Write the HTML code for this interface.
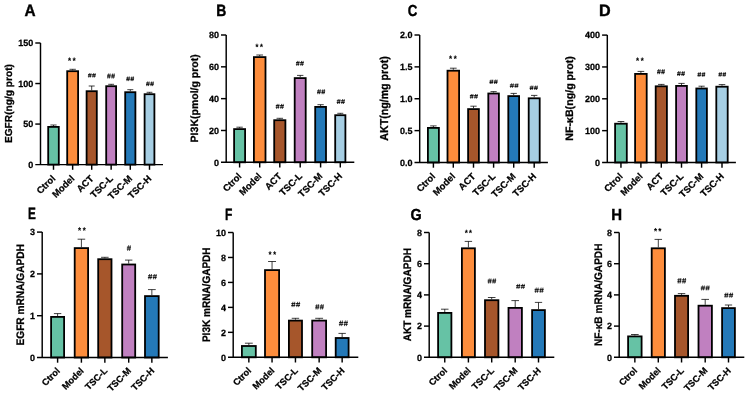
<!DOCTYPE html>
<html><head><meta charset="utf-8"><style>
html,body{margin:0;padding:0;background:#fff;}
svg{display:block;will-change:transform;} .wrap{width:750px;height:397px;}
text{font-family:"Liberation Sans", sans-serif;font-weight:bold;fill:#000;font-kerning:none;text-rendering:geometricPrecision;stroke:#000;stroke-width:0.25px;}
</style></head><body><div class="wrap">
<svg width="750" height="397" viewBox="0 0 750 397">
<rect width="750" height="397" fill="#fff"/>
<path d="M53.50 126.00V125.00M50.40 125.00H56.60" stroke="#000" stroke-width="0.75" fill="none"/>
<rect x="48.20" y="126.90" width="10.60" height="37.70" fill="#66C2A5" stroke="#000" stroke-width="1.8"/>
<path d="M72.65 70.30V69.30M69.48 69.30H75.83" stroke="#000" stroke-width="0.75" fill="none"/>
<rect x="67.20" y="71.20" width="10.90" height="93.40" fill="#FD8D3C" stroke="#000" stroke-width="1.8"/>
<path d="M69.91 58.71 70.83 58.23 71.1 59.14 70.12 59.42 70.85 60.39 70.13 60.95 69.55 59.79 68.97 60.95 68.24 60.39 68.98 59.42 68 59.14 68.27 58.23 69.21 58.71 69.14 57.45H69.98Z" fill="#000" stroke="#000" stroke-width="0.05"/>
<path d="M74.51 58.71 75.43 58.23 75.7 59.14 74.72 59.42 75.45 60.39 74.73 60.95 74.15 59.79 73.57 60.95 72.84 60.39 73.58 59.42 72.6 59.14 72.87 58.23 73.81 58.71 73.74 57.45H74.58Z" fill="#000" stroke="#000" stroke-width="0.05"/>
<path d="M91.70 90.30V86.00M88.70 86.00H94.70" stroke="#000" stroke-width="0.75" fill="none"/>
<rect x="86.60" y="91.20" width="10.20" height="73.40" fill="#A6562B" stroke="#000" stroke-width="1.8"/>
<path d="M88.00 74.66H91.65M87.90 76.12H91.45M92.15 74.66H95.80M92.05 76.12H95.60" stroke="#000" stroke-width="0.9" fill="none"/><path d="M89.46 73.20L88.66 77.50M91.07 73.20L90.26 77.50M93.61 73.20L92.81 77.50M95.22 73.20L94.41 77.50" stroke="#000" stroke-width="0.7" fill="none"/>
<path d="M111.15 85.30V84.30M108.23 84.30H114.08" stroke="#000" stroke-width="0.75" fill="none"/>
<rect x="106.20" y="86.20" width="9.90" height="78.40" fill="#C080C0" stroke="#000" stroke-width="1.8"/>
<path d="M107.10 75.20H110.75M107.00 76.90H110.55M111.25 75.20H114.90M111.15 76.90H114.70" stroke="#000" stroke-width="0.9" fill="none"/><path d="M108.56 73.50L107.76 78.50M110.17 73.50L109.36 78.50M112.71 73.50L111.91 78.50M114.32 73.50L113.51 78.50" stroke="#000" stroke-width="0.7" fill="none"/>
<path d="M130.30 91.30V89.70M127.30 89.70H133.30" stroke="#000" stroke-width="0.75" fill="none"/>
<rect x="125.20" y="92.20" width="10.20" height="72.40" fill="#2479B8" stroke="#000" stroke-width="1.8"/>
<path d="M126.30 78.06H129.95M126.20 79.63H129.75M130.45 78.06H134.10M130.35 79.63H133.90" stroke="#000" stroke-width="0.9" fill="none"/><path d="M127.76 76.50L126.96 81.10M129.37 76.50L128.56 81.10M131.91 76.50L131.11 81.10M133.52 76.50L132.71 81.10" stroke="#000" stroke-width="0.7" fill="none"/>
<path d="M149.50 93.30V92.30M146.60 92.30H152.40" stroke="#000" stroke-width="0.75" fill="none"/>
<rect x="144.60" y="94.20" width="9.80" height="70.40" fill="#A6CEE3" stroke="#000" stroke-width="1.8"/>
<path d="M146.10 83.06H149.75M146.00 84.63H149.55M150.25 83.06H153.90M150.15 84.63H153.70" stroke="#000" stroke-width="0.9" fill="none"/><path d="M147.56 81.50L146.76 86.10M149.17 81.50L148.36 86.10M151.71 81.50L150.91 86.10M153.32 81.50L152.51 86.10" stroke="#000" stroke-width="0.7" fill="none"/>
<path d="M40.50 43.00V164.60M35.30 164.60H163.00" stroke="#000" stroke-width="1.45" fill="none"/>
<path d="M35.30 43.00H40.50" stroke="#000" stroke-width="1.45"/>
<text x="33.30" y="46.20" font-size="9" text-anchor="end">150</text>
<path d="M35.30 83.53H40.50" stroke="#000" stroke-width="1.45"/>
<text x="33.30" y="86.73" font-size="9" text-anchor="end">100</text>
<path d="M35.30 124.07H40.50" stroke="#000" stroke-width="1.45"/>
<text x="33.30" y="127.27" font-size="9" text-anchor="end">50</text>
<text x="33.30" y="167.80" font-size="9" text-anchor="end">0</text>
<path d="M53.50 164.60V169.80" stroke="#000" stroke-width="1.45"/>
<text transform="translate(56.00,179.10) rotate(-45)" font-size="9.4" text-anchor="end">Ctrol</text>
<path d="M72.65 164.60V169.80" stroke="#000" stroke-width="1.45"/>
<text transform="translate(75.15,179.10) rotate(-45)" font-size="9.4" text-anchor="end">Model</text>
<path d="M91.70 164.60V169.80" stroke="#000" stroke-width="1.45"/>
<text transform="translate(94.20,179.10) rotate(-45)" font-size="9.4" text-anchor="end">ACT</text>
<path d="M111.15 164.60V169.80" stroke="#000" stroke-width="1.45"/>
<text transform="translate(113.65,179.10) rotate(-45)" font-size="9.4" text-anchor="end">TSC-L</text>
<path d="M130.30 164.60V169.80" stroke="#000" stroke-width="1.45"/>
<text transform="translate(132.80,179.10) rotate(-45)" font-size="9.4" text-anchor="end">TSC-M</text>
<path d="M149.50 164.60V169.80" stroke="#000" stroke-width="1.45"/>
<text transform="translate(152.00,179.10) rotate(-45)" font-size="9.4" text-anchor="end">TSC-H</text>
<text transform="translate(24.62,16.30) scale(1.535,1.642)" font-size="10">A</text>
<text transform="translate(12.00,143.08) rotate(-90) scale(1.017,1.017)" font-size="10">EGFR(ng/g prot)</text>
<path d="M239.60 128.20V127.20M236.40 127.20H242.80" stroke="#000" stroke-width="0.75" fill="none"/>
<rect x="234.10" y="129.10" width="11.00" height="33.20" fill="#66C2A5" stroke="#000" stroke-width="1.8"/>
<path d="M259.70 56.20V55.00M256.35 55.00H263.05" stroke="#000" stroke-width="0.75" fill="none"/>
<rect x="253.90" y="57.10" width="11.60" height="105.20" fill="#FD8D3C" stroke="#000" stroke-width="1.8"/>
<path d="M257.31 44.91 258.23 44.43 258.5 45.34 257.52 45.62 258.25 46.59 257.53 47.15 256.95 45.99 256.37 47.15 255.64 46.59 256.38 45.62 255.4 45.34 255.67 44.43 256.61 44.91 256.54 43.65H257.38Z" fill="#000" stroke="#000" stroke-width="0.05"/>
<path d="M261.81 44.91 262.73 44.43 263 45.34 262.02 45.62 262.75 46.59 262.03 47.15 261.45 45.99 260.87 47.15 260.14 46.59 260.88 45.62 259.9 45.34 260.17 44.43 261.11 44.91 261.04 43.65H261.88Z" fill="#000" stroke="#000" stroke-width="0.05"/>
<path d="M279.80 119.30V118.30M276.55 118.30H283.05" stroke="#000" stroke-width="0.75" fill="none"/>
<rect x="274.20" y="120.20" width="11.20" height="42.10" fill="#A6562B" stroke="#000" stroke-width="1.8"/>
<path d="M275.80 105.57H279.60M275.70 107.23H279.40M280.10 105.57H283.90M280.00 107.23H283.70" stroke="#000" stroke-width="0.9" fill="none"/><path d="M277.32 103.90L276.48 108.80M278.99 103.90L278.16 108.80M281.62 103.90L280.78 108.80M283.29 103.90L282.46 108.80" stroke="#000" stroke-width="0.7" fill="none"/>
<path d="M300.20 77.20V75.40M297.00 75.40H303.40" stroke="#000" stroke-width="0.75" fill="none"/>
<rect x="294.70" y="78.10" width="11.00" height="84.20" fill="#C080C0" stroke="#000" stroke-width="1.8"/>
<path d="M296.00 62.57H299.65M295.90 64.23H299.45M300.15 62.57H303.80M300.05 64.23H303.60" stroke="#000" stroke-width="0.9" fill="none"/><path d="M297.46 60.90L296.66 65.80M299.07 60.90L298.26 65.80M301.61 60.90L300.81 65.80M303.22 60.90L302.41 65.80" stroke="#000" stroke-width="0.7" fill="none"/>
<path d="M320.60 106.00V104.70M317.45 104.70H323.75" stroke="#000" stroke-width="0.75" fill="none"/>
<rect x="315.20" y="106.90" width="10.80" height="55.40" fill="#2479B8" stroke="#000" stroke-width="1.8"/>
<path d="M317.10 90.97H320.90M317.00 92.63H320.70M321.40 90.97H325.20M321.30 92.63H325.00" stroke="#000" stroke-width="0.9" fill="none"/><path d="M318.62 89.30L317.78 94.20M320.29 89.30L319.46 94.20M322.92 89.30L322.08 94.20M324.59 89.30L323.76 94.20" stroke="#000" stroke-width="0.7" fill="none"/>
<path d="M340.30 114.30V113.30M337.30 113.30H343.30" stroke="#000" stroke-width="0.75" fill="none"/>
<rect x="335.20" y="115.20" width="10.20" height="47.10" fill="#A6CEE3" stroke="#000" stroke-width="1.8"/>
<path d="M336.80 100.77H340.60M336.70 102.43H340.40M341.10 100.77H344.90M341.00 102.43H344.70" stroke="#000" stroke-width="0.9" fill="none"/><path d="M338.32 99.10L337.48 104.00M339.99 99.10L339.16 104.00M342.62 99.10L341.78 104.00M344.29 99.10L343.46 104.00" stroke="#000" stroke-width="0.7" fill="none"/>
<path d="M226.20 35.00V162.30M221.00 162.30H354.30" stroke="#000" stroke-width="1.45" fill="none"/>
<path d="M221.00 35.00H226.20" stroke="#000" stroke-width="1.45"/>
<text x="219.00" y="38.20" font-size="9" text-anchor="end">80</text>
<path d="M221.00 66.83H226.20" stroke="#000" stroke-width="1.45"/>
<text x="219.00" y="70.03" font-size="9" text-anchor="end">60</text>
<path d="M221.00 98.65H226.20" stroke="#000" stroke-width="1.45"/>
<text x="219.00" y="101.85" font-size="9" text-anchor="end">40</text>
<path d="M221.00 130.48H226.20" stroke="#000" stroke-width="1.45"/>
<text x="219.00" y="133.68" font-size="9" text-anchor="end">20</text>
<text x="219.00" y="165.50" font-size="9" text-anchor="end">0</text>
<path d="M239.60 162.30V167.50" stroke="#000" stroke-width="1.45"/>
<text transform="translate(242.10,176.80) rotate(-45)" font-size="9.4" text-anchor="end">Ctrol</text>
<path d="M259.70 162.30V167.50" stroke="#000" stroke-width="1.45"/>
<text transform="translate(262.20,176.80) rotate(-45)" font-size="9.4" text-anchor="end">Model</text>
<path d="M279.80 162.30V167.50" stroke="#000" stroke-width="1.45"/>
<text transform="translate(282.30,176.80) rotate(-45)" font-size="9.4" text-anchor="end">ACT</text>
<path d="M300.20 162.30V167.50" stroke="#000" stroke-width="1.45"/>
<text transform="translate(302.70,176.80) rotate(-45)" font-size="9.4" text-anchor="end">TSC-L</text>
<path d="M320.60 162.30V167.50" stroke="#000" stroke-width="1.45"/>
<text transform="translate(323.10,176.80) rotate(-45)" font-size="9.4" text-anchor="end">TSC-M</text>
<path d="M340.30 162.30V167.50" stroke="#000" stroke-width="1.45"/>
<text transform="translate(342.80,176.80) rotate(-45)" font-size="9.4" text-anchor="end">TSC-H</text>
<text transform="translate(216.27,16.30) scale(1.394,1.642)" font-size="10">B</text>
<text transform="translate(198.00,142.40) rotate(-90) scale(1.051,1.061)" font-size="10">PI3K(pmol/g prot)</text>
<path d="M433.40 127.00V125.90M430.20 125.90H436.60" stroke="#000" stroke-width="0.75" fill="none"/>
<rect x="427.90" y="127.90" width="11.00" height="34.60" fill="#66C2A5" stroke="#000" stroke-width="1.8"/>
<path d="M453.30 69.80V68.20M449.95 68.20H456.65" stroke="#000" stroke-width="0.75" fill="none"/>
<rect x="447.50" y="70.70" width="11.60" height="91.80" fill="#FD8D3C" stroke="#000" stroke-width="1.8"/>
<path d="M450.91 56.71 451.83 56.23 452.1 57.14 451.12 57.42 451.85 58.39 451.13 58.95 450.55 57.79 449.97 58.95 449.24 58.39 449.98 57.42 449 57.14 449.27 56.23 450.21 56.71 450.14 55.45H450.98Z" fill="#000" stroke="#000" stroke-width="0.05"/>
<path d="M455.61 56.71 456.53 56.23 456.8 57.14 455.82 57.42 456.55 58.39 455.83 58.95 455.25 57.79 454.67 58.95 453.94 58.39 454.68 57.42 453.7 57.14 453.97 56.23 454.91 56.71 454.84 55.45H455.68Z" fill="#000" stroke="#000" stroke-width="0.05"/>
<path d="M473.50 108.20V106.20M470.35 106.20H476.65" stroke="#000" stroke-width="0.75" fill="none"/>
<rect x="468.10" y="109.10" width="10.80" height="53.40" fill="#A6562B" stroke="#000" stroke-width="1.8"/>
<path d="M469.90 95.56H473.65M469.80 97.13H473.45M474.15 95.56H477.90M474.05 97.13H477.70" stroke="#000" stroke-width="0.9" fill="none"/><path d="M471.40 94.00L470.58 98.60M473.05 94.00L472.23 98.60M475.65 94.00L474.82 98.60M477.30 94.00L476.47 98.60" stroke="#000" stroke-width="0.7" fill="none"/>
<path d="M493.60 92.60V91.60M490.50 91.60H496.70" stroke="#000" stroke-width="0.75" fill="none"/>
<rect x="488.30" y="93.50" width="10.60" height="69.00" fill="#C080C0" stroke="#000" stroke-width="1.8"/>
<path d="M489.50 81.10H493.35M489.40 82.59H493.15M493.85 81.10H497.70M493.75 82.59H497.50" stroke="#000" stroke-width="0.9" fill="none"/><path d="M491.04 79.60L490.19 84.00M492.73 79.60L491.89 84.00M495.39 79.60L494.54 84.00M497.08 79.60L496.24 84.00" stroke="#000" stroke-width="0.7" fill="none"/>
<path d="M513.70 95.20V93.40M510.55 93.40H516.85" stroke="#000" stroke-width="0.75" fill="none"/>
<rect x="508.30" y="96.10" width="10.80" height="66.40" fill="#2479B8" stroke="#000" stroke-width="1.8"/>
<path d="M509.90 84.90H513.95M509.80 86.39H513.75M514.45 84.90H518.50M514.35 86.39H518.30" stroke="#000" stroke-width="0.9" fill="none"/><path d="M511.52 83.40L510.63 87.80M513.30 83.40L512.41 87.80M516.07 83.40L515.18 87.80M517.85 83.40L516.96 87.80" stroke="#000" stroke-width="0.7" fill="none"/>
<path d="M534.20 97.40V95.40M531.00 95.40H537.40" stroke="#000" stroke-width="0.75" fill="none"/>
<rect x="528.70" y="98.30" width="11.00" height="64.20" fill="#A6CEE3" stroke="#000" stroke-width="1.8"/>
<path d="M529.70 87.10H533.55M529.60 88.59H533.35M534.05 87.10H537.90M533.95 88.59H537.70" stroke="#000" stroke-width="0.9" fill="none"/><path d="M531.24 85.60L530.39 90.00M532.93 85.60L532.09 90.00M535.59 85.60L534.74 90.00M537.28 85.60L536.44 90.00" stroke="#000" stroke-width="0.7" fill="none"/>
<path d="M419.70 35.00V162.50M414.50 162.50H547.90" stroke="#000" stroke-width="1.45" fill="none"/>
<path d="M414.50 35.00H419.70" stroke="#000" stroke-width="1.45"/>
<text x="412.50" y="38.20" font-size="9" text-anchor="end">2.0</text>
<path d="M414.50 66.88H419.70" stroke="#000" stroke-width="1.45"/>
<text x="412.50" y="70.08" font-size="9" text-anchor="end">1.5</text>
<path d="M414.50 98.75H419.70" stroke="#000" stroke-width="1.45"/>
<text x="412.50" y="101.95" font-size="9" text-anchor="end">1.0</text>
<path d="M414.50 130.62H419.70" stroke="#000" stroke-width="1.45"/>
<text x="412.50" y="133.82" font-size="9" text-anchor="end">0.5</text>
<text x="412.50" y="165.70" font-size="9" text-anchor="end">0.0</text>
<path d="M433.40 162.50V167.70" stroke="#000" stroke-width="1.45"/>
<text transform="translate(435.90,177.00) rotate(-45)" font-size="9.4" text-anchor="end">Ctrol</text>
<path d="M453.30 162.50V167.70" stroke="#000" stroke-width="1.45"/>
<text transform="translate(455.80,177.00) rotate(-45)" font-size="9.4" text-anchor="end">Model</text>
<path d="M473.50 162.50V167.70" stroke="#000" stroke-width="1.45"/>
<text transform="translate(476.00,177.00) rotate(-45)" font-size="9.4" text-anchor="end">ACT</text>
<path d="M493.60 162.50V167.70" stroke="#000" stroke-width="1.45"/>
<text transform="translate(496.10,177.00) rotate(-45)" font-size="9.4" text-anchor="end">TSC-L</text>
<path d="M513.70 162.50V167.70" stroke="#000" stroke-width="1.45"/>
<text transform="translate(516.20,177.00) rotate(-45)" font-size="9.4" text-anchor="end">TSC-M</text>
<path d="M534.20 162.50V167.70" stroke="#000" stroke-width="1.45"/>
<text transform="translate(536.70,177.00) rotate(-45)" font-size="9.4" text-anchor="end">TSC-H</text>
<text transform="translate(407.75,16.14) scale(1.331,1.596)" font-size="10">C</text>
<text transform="translate(387.90,140.66) rotate(-90) scale(1.063,1.148)" font-size="10">AKT(ng/mg prot)</text>
<path d="M620.95 122.80V121.50M617.58 121.50H624.33" stroke="#000" stroke-width="0.75" fill="none"/>
<rect x="615.10" y="123.70" width="11.70" height="38.80" fill="#66C2A5" stroke="#000" stroke-width="1.8"/>
<path d="M640.90 73.00V71.40M637.55 71.40H644.25" stroke="#000" stroke-width="0.75" fill="none"/>
<rect x="635.10" y="73.90" width="11.60" height="88.60" fill="#FD8D3C" stroke="#000" stroke-width="1.8"/>
<path d="M637.91 58.71 638.83 58.23 639.1 59.14 638.12 59.42 638.85 60.39 638.13 60.95 637.55 59.79 636.97 60.95 636.24 60.39 636.98 59.42 636 59.14 636.27 58.23 637.21 58.71 637.14 57.45H637.98Z" fill="#000" stroke="#000" stroke-width="0.05"/>
<path d="M642.61 58.71 643.53 58.23 643.8 59.14 642.82 59.42 643.55 60.39 642.83 60.95 642.25 59.79 641.67 60.95 640.94 60.39 641.68 59.42 640.7 59.14 640.97 58.23 641.91 58.71 641.84 57.45H642.68Z" fill="#000" stroke="#000" stroke-width="0.05"/>
<path d="M661.30 85.40V84.40M658.05 84.40H664.55" stroke="#000" stroke-width="0.75" fill="none"/>
<rect x="655.70" y="86.30" width="11.20" height="76.20" fill="#A6562B" stroke="#000" stroke-width="1.8"/>
<path d="M657.10 70.90H660.75M657.00 72.60H660.55M661.25 70.90H664.90M661.15 72.60H664.70" stroke="#000" stroke-width="0.9" fill="none"/><path d="M658.56 69.20L657.76 74.20M660.17 69.20L659.36 74.20M662.71 69.20L661.91 74.20M664.32 69.20L663.51 74.20" stroke="#000" stroke-width="0.7" fill="none"/>
<path d="M681.50 85.00V83.40M678.35 83.40H684.65" stroke="#000" stroke-width="0.75" fill="none"/>
<rect x="676.10" y="85.90" width="10.80" height="76.60" fill="#C080C0" stroke="#000" stroke-width="1.8"/>
<path d="M677.10 72.83H680.75M677.00 74.46H680.55M681.25 72.83H684.90M681.15 74.46H684.70" stroke="#000" stroke-width="0.9" fill="none"/><path d="M678.56 71.20L677.76 76.00M680.17 71.20L679.36 76.00M682.71 71.20L681.91 76.00M684.32 71.20L683.51 76.00" stroke="#000" stroke-width="0.7" fill="none"/>
<path d="M701.60 87.60V86.20M698.50 86.20H704.70" stroke="#000" stroke-width="0.75" fill="none"/>
<rect x="696.30" y="88.50" width="10.60" height="74.00" fill="#2479B8" stroke="#000" stroke-width="1.8"/>
<path d="M697.50 73.76H701.15M697.40 75.33H700.95M701.65 73.76H705.30M701.55 75.33H705.10" stroke="#000" stroke-width="0.9" fill="none"/><path d="M698.96 72.20L698.16 76.80M700.57 72.20L699.76 76.80M703.11 72.20L702.31 76.80M704.72 72.20L703.91 76.80" stroke="#000" stroke-width="0.7" fill="none"/>
<path d="M722.00 85.80V84.60M718.70 84.60H725.30" stroke="#000" stroke-width="0.75" fill="none"/>
<rect x="716.30" y="86.70" width="11.40" height="75.80" fill="#A6CEE3" stroke="#000" stroke-width="1.8"/>
<path d="M718.50 73.70H722.05M718.40 75.19H721.85M722.55 73.70H726.10M722.45 75.19H725.90" stroke="#000" stroke-width="0.9" fill="none"/><path d="M719.92 72.20L719.14 76.60M721.48 72.20L720.70 76.60M723.97 72.20L723.19 76.60M725.53 72.20L724.75 76.60" stroke="#000" stroke-width="0.7" fill="none"/>
<path d="M607.30 35.10V162.50M602.10 162.50H735.90" stroke="#000" stroke-width="1.45" fill="none"/>
<path d="M602.10 35.10H607.30" stroke="#000" stroke-width="1.45"/>
<text x="600.10" y="38.30" font-size="9" text-anchor="end">400</text>
<path d="M602.10 66.95H607.30" stroke="#000" stroke-width="1.45"/>
<text x="600.10" y="70.15" font-size="9" text-anchor="end">300</text>
<path d="M602.10 98.80H607.30" stroke="#000" stroke-width="1.45"/>
<text x="600.10" y="102.00" font-size="9" text-anchor="end">200</text>
<path d="M602.10 130.65H607.30" stroke="#000" stroke-width="1.45"/>
<text x="600.10" y="133.85" font-size="9" text-anchor="end">100</text>
<text x="600.10" y="165.70" font-size="9" text-anchor="end">0</text>
<path d="M620.95 162.50V167.70" stroke="#000" stroke-width="1.45"/>
<text transform="translate(623.45,177.00) rotate(-45)" font-size="9.4" text-anchor="end">Ctrol</text>
<path d="M640.90 162.50V167.70" stroke="#000" stroke-width="1.45"/>
<text transform="translate(643.40,177.00) rotate(-45)" font-size="9.4" text-anchor="end">Model</text>
<path d="M661.30 162.50V167.70" stroke="#000" stroke-width="1.45"/>
<text transform="translate(663.80,177.00) rotate(-45)" font-size="9.4" text-anchor="end">ACT</text>
<path d="M681.50 162.50V167.70" stroke="#000" stroke-width="1.45"/>
<text transform="translate(684.00,177.00) rotate(-45)" font-size="9.4" text-anchor="end">TSC-L</text>
<path d="M701.60 162.50V167.70" stroke="#000" stroke-width="1.45"/>
<text transform="translate(704.10,177.00) rotate(-45)" font-size="9.4" text-anchor="end">TSC-M</text>
<path d="M722.00 162.50V167.70" stroke="#000" stroke-width="1.45"/>
<text transform="translate(724.50,177.00) rotate(-45)" font-size="9.4" text-anchor="end">TSC-H</text>
<text transform="translate(598.92,16.30) scale(1.614,1.642)" font-size="10">D</text>
<text transform="translate(573.20,140.81) rotate(-90) scale(1.066,1.076)" font-size="10">NF-κB(ng/g prot)</text>
<path d="M57.60 316.00V313.60M53.90 313.60H61.30" stroke="#000" stroke-width="0.75" fill="none"/>
<rect x="51.10" y="316.90" width="13.00" height="40.60" fill="#66C2A5" stroke="#000" stroke-width="1.8"/>
<path d="M81.40 247.20V239.20M77.60 239.20H85.20" stroke="#000" stroke-width="0.75" fill="none"/>
<rect x="74.70" y="248.10" width="13.40" height="109.40" fill="#FD8D3C" stroke="#000" stroke-width="1.8"/>
<path d="M79.91 228.51 80.83 228.03 81.1 228.94 80.12 229.22 80.85 230.19 80.13 230.75 79.55 229.59 78.97 230.75 78.24 230.19 78.98 229.22 78 228.94 78.27 228.03 79.21 228.51 79.14 227.25H79.98Z" fill="#000" stroke="#000" stroke-width="0.05"/>
<path d="M84.61 228.51 85.53 228.03 85.8 228.94 84.82 229.22 85.55 230.19 84.83 230.75 84.25 229.59 83.67 230.75 82.94 230.19 83.68 229.22 82.7 228.94 82.97 228.03 83.91 228.51 83.84 227.25H84.68Z" fill="#000" stroke="#000" stroke-width="0.05"/>
<path d="M104.85 258.30V257.30M101.07 257.30H108.62" stroke="#000" stroke-width="0.75" fill="none"/>
<rect x="98.20" y="259.20" width="13.30" height="98.30" fill="#A6562B" stroke="#000" stroke-width="1.8"/>
<path d="M128.70 263.60V260.10M125.00 260.10H132.40" stroke="#000" stroke-width="0.75" fill="none"/>
<rect x="122.20" y="264.50" width="13.00" height="93.00" fill="#C080C0" stroke="#000" stroke-width="1.8"/>
<path d="M126.90 247.17H131.00M126.80 249.04H130.80" stroke="#000" stroke-width="0.9" fill="none"/><path d="M128.54 245.30L127.64 250.80M130.34 245.30L129.44 250.80" stroke="#000" stroke-width="0.7" fill="none"/>
<path d="M151.85 295.20V289.60M147.97 289.60H155.72" stroke="#000" stroke-width="0.75" fill="none"/>
<rect x="145.00" y="296.10" width="13.70" height="61.40" fill="#2479B8" stroke="#000" stroke-width="1.8"/>
<path d="M148.00 275.80H152.20M147.90 277.60H152.00M152.70 275.80H156.90M152.60 277.60H156.70" stroke="#000" stroke-width="0.9" fill="none"/><path d="M149.68 274.00L148.76 279.30M151.53 274.00L150.60 279.30M154.38 274.00L153.46 279.30M156.23 274.00L155.30 279.30" stroke="#000" stroke-width="0.7" fill="none"/>
<path d="M42.20 232.10V357.50M37.00 357.50H167.90" stroke="#000" stroke-width="1.45" fill="none"/>
<path d="M37.00 232.10H42.20" stroke="#000" stroke-width="1.45"/>
<text x="35.00" y="235.30" font-size="9" text-anchor="end">3</text>
<path d="M37.00 273.90H42.20" stroke="#000" stroke-width="1.45"/>
<text x="35.00" y="277.10" font-size="9" text-anchor="end">2</text>
<path d="M37.00 315.70H42.20" stroke="#000" stroke-width="1.45"/>
<text x="35.00" y="318.90" font-size="9" text-anchor="end">1</text>
<text x="35.00" y="360.70" font-size="9" text-anchor="end">0</text>
<path d="M57.60 357.50V362.70" stroke="#000" stroke-width="1.45"/>
<text transform="translate(60.60,371.40) rotate(-45)" font-size="9.2" text-anchor="end">Ctrol</text>
<path d="M81.40 357.50V362.70" stroke="#000" stroke-width="1.45"/>
<text transform="translate(84.40,371.40) rotate(-45)" font-size="9.2" text-anchor="end">Model</text>
<path d="M104.85 357.50V362.70" stroke="#000" stroke-width="1.45"/>
<text transform="translate(107.85,371.40) rotate(-45)" font-size="9.2" text-anchor="end">TSC-L</text>
<path d="M128.70 357.50V362.70" stroke="#000" stroke-width="1.45"/>
<text transform="translate(131.70,371.40) rotate(-45)" font-size="9.2" text-anchor="end">TSC-M</text>
<path d="M151.85 357.50V362.70" stroke="#000" stroke-width="1.45"/>
<text transform="translate(154.85,371.40) rotate(-45)" font-size="9.2" text-anchor="end">TSC-H</text>
<text transform="translate(27.91,218.70) scale(1.176,1.657)" font-size="10">E</text>
<text transform="translate(23.80,345.48) rotate(-90) scale(1.014,1.090)" font-size="10">EGFR mRNA/GAPDH</text>
<path d="M248.85 345.10V343.20M244.93 343.20H252.77" stroke="#000" stroke-width="0.75" fill="none"/>
<rect x="241.90" y="346.00" width="13.90" height="11.30" fill="#66C2A5" stroke="#000" stroke-width="1.8"/>
<path d="M272.05 269.20V261.50M268.08 261.50H276.02" stroke="#000" stroke-width="0.75" fill="none"/>
<rect x="265.00" y="270.10" width="14.10" height="87.20" fill="#FD8D3C" stroke="#000" stroke-width="1.8"/>
<path d="M270.41 252.61 271.33 252.13 271.6 253.04 270.62 253.32 271.35 254.29 270.63 254.85 270.05 253.69 269.47 254.85 268.74 254.29 269.48 253.32 268.5 253.04 268.77 252.13 269.71 252.61 269.64 251.35H270.48Z" fill="#000" stroke="#000" stroke-width="0.05"/>
<path d="M275.01 252.61 275.93 252.13 276.2 253.04 275.22 253.32 275.95 254.29 275.23 254.85 274.65 253.69 274.07 254.85 273.34 254.29 274.08 253.32 273.1 253.04 273.37 252.13 274.31 252.61 274.24 251.35H275.08Z" fill="#000" stroke="#000" stroke-width="0.05"/>
<path d="M295.45 319.70V318.30M291.73 318.30H299.17" stroke="#000" stroke-width="0.75" fill="none"/>
<rect x="288.90" y="320.60" width="13.10" height="36.70" fill="#A6562B" stroke="#000" stroke-width="1.8"/>
<path d="M291.30 303.60H295.50M291.20 305.40H295.30M296.00 303.60H300.20M295.90 305.40H300.00" stroke="#000" stroke-width="0.9" fill="none"/><path d="M292.98 301.80L292.06 307.10M294.83 301.80L293.90 307.10M297.68 301.80L296.76 307.10M299.53 301.80L298.60 307.10" stroke="#000" stroke-width="0.7" fill="none"/>
<path d="M319.15 319.70V318.30M315.22 318.30H323.07" stroke="#000" stroke-width="0.75" fill="none"/>
<rect x="312.20" y="320.60" width="13.90" height="36.70" fill="#C080C0" stroke="#000" stroke-width="1.8"/>
<path d="M315.30 306.00H319.35M315.20 307.80H319.15M319.85 306.00H323.90M319.75 307.80H323.70" stroke="#000" stroke-width="0.9" fill="none"/><path d="M316.92 304.20L316.03 309.50M318.70 304.20L317.81 309.50M321.47 304.20L320.58 309.50M323.25 304.20L322.36 309.50" stroke="#000" stroke-width="0.7" fill="none"/>
<path d="M342.15 337.10V333.40M338.47 333.40H345.82" stroke="#000" stroke-width="0.75" fill="none"/>
<rect x="335.70" y="338.00" width="12.90" height="19.30" fill="#2479B8" stroke="#000" stroke-width="1.8"/>
<path d="M339.00 322.40H343.20M338.90 324.31H343.00M343.70 322.40H347.90M343.60 324.31H347.70" stroke="#000" stroke-width="0.9" fill="none"/><path d="M340.68 320.50L339.76 326.10M342.53 320.50L341.60 326.10M345.38 320.50L344.46 326.10M347.23 320.50L346.30 326.10" stroke="#000" stroke-width="0.7" fill="none"/>
<path d="M233.20 232.50V357.30M228.00 357.30H358.30" stroke="#000" stroke-width="1.45" fill="none"/>
<path d="M228.00 232.50H233.20" stroke="#000" stroke-width="1.45"/>
<text x="226.00" y="235.70" font-size="9" text-anchor="end">10</text>
<path d="M228.00 257.46H233.20" stroke="#000" stroke-width="1.45"/>
<text x="226.00" y="260.66" font-size="9" text-anchor="end">8</text>
<path d="M228.00 282.42H233.20" stroke="#000" stroke-width="1.45"/>
<text x="226.00" y="285.62" font-size="9" text-anchor="end">6</text>
<path d="M228.00 307.38H233.20" stroke="#000" stroke-width="1.45"/>
<text x="226.00" y="310.58" font-size="9" text-anchor="end">4</text>
<path d="M228.00 332.34H233.20" stroke="#000" stroke-width="1.45"/>
<text x="226.00" y="335.54" font-size="9" text-anchor="end">2</text>
<text x="226.00" y="360.50" font-size="9" text-anchor="end">0</text>
<path d="M248.85 357.30V362.50" stroke="#000" stroke-width="1.45"/>
<text transform="translate(251.85,371.20) rotate(-45)" font-size="9.2" text-anchor="end">Ctrol</text>
<path d="M272.05 357.30V362.50" stroke="#000" stroke-width="1.45"/>
<text transform="translate(275.05,371.20) rotate(-45)" font-size="9.2" text-anchor="end">Model</text>
<path d="M295.45 357.30V362.50" stroke="#000" stroke-width="1.45"/>
<text transform="translate(298.45,371.20) rotate(-45)" font-size="9.2" text-anchor="end">TSC-L</text>
<path d="M319.15 357.30V362.50" stroke="#000" stroke-width="1.45"/>
<text transform="translate(322.15,371.20) rotate(-45)" font-size="9.2" text-anchor="end">TSC-M</text>
<path d="M342.15 357.30V362.50" stroke="#000" stroke-width="1.45"/>
<text transform="translate(345.15,371.20) rotate(-45)" font-size="9.2" text-anchor="end">TSC-H</text>
<text transform="translate(225.10,220.30) scale(1.202,1.642)" font-size="10">F</text>
<text transform="translate(209.80,342.07) rotate(-90) scale(1.002,1.090)" font-size="10">PI3K mRNA/GAPDH</text>
<path d="M444.75 312.00V309.20M440.98 309.20H448.52" stroke="#000" stroke-width="0.75" fill="none"/>
<rect x="438.10" y="312.90" width="13.30" height="44.40" fill="#66C2A5" stroke="#000" stroke-width="1.8"/>
<path d="M468.40 247.40V241.40M464.70 241.40H472.10" stroke="#000" stroke-width="0.75" fill="none"/>
<rect x="461.90" y="248.30" width="13.00" height="109.00" fill="#FD8D3C" stroke="#000" stroke-width="1.8"/>
<path d="M466.71 230.91 467.63 230.43 467.9 231.34 466.92 231.62 467.65 232.59 466.93 233.15 466.35 231.99 465.77 233.15 465.04 232.59 465.78 231.62 464.8 231.34 465.07 230.43 466.01 230.91 465.94 229.65H466.78Z" fill="#000" stroke="#000" stroke-width="0.05"/>
<path d="M470.81 230.91 471.73 230.43 472 231.34 471.02 231.62 471.75 232.59 471.03 233.15 470.45 231.99 469.87 233.15 469.14 232.59 469.88 231.62 468.9 231.34 469.17 230.43 470.11 230.91 470.04 229.65H470.88Z" fill="#000" stroke="#000" stroke-width="0.05"/>
<path d="M491.70 299.30V297.50M487.90 297.50H495.50" stroke="#000" stroke-width="0.75" fill="none"/>
<rect x="485.00" y="300.20" width="13.40" height="57.10" fill="#A6562B" stroke="#000" stroke-width="1.8"/>
<path d="M487.70 280.20H491.70M487.60 281.90H491.50M492.20 280.20H496.20M492.10 281.90H496.00" stroke="#000" stroke-width="0.9" fill="none"/><path d="M489.30 278.50L488.42 283.50M491.06 278.50L490.18 283.50M493.80 278.50L492.92 283.50M495.56 278.50L494.68 283.50" stroke="#000" stroke-width="0.7" fill="none"/>
<path d="M515.20 307.00V300.60M511.40 300.60H519.00" stroke="#000" stroke-width="0.75" fill="none"/>
<rect x="508.50" y="307.90" width="13.40" height="49.40" fill="#C080C0" stroke="#000" stroke-width="1.8"/>
<path d="M516.20 285.57H520.35M516.10 287.23H520.15M520.85 285.57H525.00M520.75 287.23H524.80" stroke="#000" stroke-width="0.9" fill="none"/><path d="M517.86 283.90L516.95 288.80M519.69 283.90L518.77 288.80M522.51 283.90L521.60 288.80M524.34 283.90L523.42 288.80" stroke="#000" stroke-width="0.7" fill="none"/>
<path d="M538.50 309.20V302.40M534.85 302.40H542.15" stroke="#000" stroke-width="0.75" fill="none"/>
<rect x="532.10" y="310.10" width="12.80" height="47.20" fill="#2479B8" stroke="#000" stroke-width="1.8"/>
<path d="M534.60 289.37H538.90M534.50 291.14H538.70M539.40 289.37H543.70M539.30 291.14H543.50" stroke="#000" stroke-width="0.9" fill="none"/><path d="M536.32 287.60L535.37 292.80M538.21 287.60L537.27 292.80M541.12 287.60L540.17 292.80M543.01 287.60L542.07 292.80" stroke="#000" stroke-width="0.7" fill="none"/>
<path d="M429.20 232.50V357.30M424.00 357.30H554.30" stroke="#000" stroke-width="1.45" fill="none"/>
<path d="M424.00 232.50H429.20" stroke="#000" stroke-width="1.45"/>
<text x="422.00" y="235.70" font-size="9" text-anchor="end">8</text>
<path d="M424.00 263.70H429.20" stroke="#000" stroke-width="1.45"/>
<text x="422.00" y="266.90" font-size="9" text-anchor="end">6</text>
<path d="M424.00 294.90H429.20" stroke="#000" stroke-width="1.45"/>
<text x="422.00" y="298.10" font-size="9" text-anchor="end">4</text>
<path d="M424.00 326.10H429.20" stroke="#000" stroke-width="1.45"/>
<text x="422.00" y="329.30" font-size="9" text-anchor="end">2</text>
<text x="422.00" y="360.50" font-size="9" text-anchor="end">0</text>
<path d="M444.75 357.30V362.50" stroke="#000" stroke-width="1.45"/>
<text transform="translate(447.75,371.20) rotate(-45)" font-size="9.2" text-anchor="end">Ctrol</text>
<path d="M468.40 357.30V362.50" stroke="#000" stroke-width="1.45"/>
<text transform="translate(471.40,371.20) rotate(-45)" font-size="9.2" text-anchor="end">Model</text>
<path d="M491.70 357.30V362.50" stroke="#000" stroke-width="1.45"/>
<text transform="translate(494.70,371.20) rotate(-45)" font-size="9.2" text-anchor="end">TSC-L</text>
<path d="M515.20 357.30V362.50" stroke="#000" stroke-width="1.45"/>
<text transform="translate(518.20,371.20) rotate(-45)" font-size="9.2" text-anchor="end">TSC-M</text>
<path d="M538.50 357.30V362.50" stroke="#000" stroke-width="1.45"/>
<text transform="translate(541.50,371.20) rotate(-45)" font-size="9.2" text-anchor="end">TSC-H</text>
<text transform="translate(410.41,220.14) scale(1.437,1.596)" font-size="10">G</text>
<text transform="translate(410.80,341.35) rotate(-90) scale(1.005,1.090)" font-size="10">AKT mRNA/GAPDH</text>
<path d="M634.85 335.50V334.50M631.03 334.50H638.67" stroke="#000" stroke-width="0.75" fill="none"/>
<rect x="628.10" y="336.40" width="13.50" height="20.90" fill="#66C2A5" stroke="#000" stroke-width="1.8"/>
<path d="M658.30 247.40V239.40M654.55 239.40H662.05" stroke="#000" stroke-width="0.75" fill="none"/>
<rect x="651.70" y="248.30" width="13.20" height="109.00" fill="#FD8D3C" stroke="#000" stroke-width="1.8"/>
<path d="M655.91 229.21 656.83 228.73 657.1 229.64 656.12 229.92 656.85 230.89 656.13 231.45 655.55 230.29 654.97 231.45 654.24 230.89 654.98 229.92 654 229.64 654.27 228.73 655.21 229.21 655.14 227.95H655.98Z" fill="#000" stroke="#000" stroke-width="0.05"/>
<path d="M660.21 229.21 661.13 228.73 661.4 229.64 660.42 229.92 661.15 230.89 660.43 231.45 659.85 230.29 659.27 231.45 658.54 230.89 659.28 229.92 658.3 229.64 658.57 228.73 659.51 229.21 659.44 227.95H660.28Z" fill="#000" stroke="#000" stroke-width="0.05"/>
<path d="M681.55 294.90V293.60M677.82 293.60H685.27" stroke="#000" stroke-width="0.75" fill="none"/>
<rect x="675.00" y="295.80" width="13.10" height="61.50" fill="#A6562B" stroke="#000" stroke-width="1.8"/>
<path d="M677.40 279.87H681.55M677.30 281.74H681.35M682.05 279.87H686.20M681.95 281.74H686.00" stroke="#000" stroke-width="0.9" fill="none"/><path d="M679.06 278.00L678.15 283.50M680.89 278.00L679.97 283.50M683.71 278.00L682.80 283.50M685.54 278.00L684.62 283.50" stroke="#000" stroke-width="0.7" fill="none"/>
<path d="M705.20 304.80V299.40M701.40 299.40H709.00" stroke="#000" stroke-width="0.75" fill="none"/>
<rect x="698.50" y="305.70" width="13.40" height="51.60" fill="#C080C0" stroke="#000" stroke-width="1.8"/>
<path d="M700.80 287.17H705.00M700.70 288.83H704.80M705.50 287.17H709.70M705.40 288.83H709.50" stroke="#000" stroke-width="0.9" fill="none"/><path d="M702.48 285.50L701.56 290.40M704.33 285.50L703.40 290.40M707.18 285.50L706.26 290.40M709.03 285.50L708.10 290.40" stroke="#000" stroke-width="0.7" fill="none"/>
<path d="M728.50 307.20V305.00M724.85 305.00H732.15" stroke="#000" stroke-width="0.75" fill="none"/>
<rect x="722.10" y="308.10" width="12.80" height="49.20" fill="#2479B8" stroke="#000" stroke-width="1.8"/>
<path d="M724.30 294.40H728.50M724.20 296.10H728.30M729.00 294.40H733.20M728.90 296.10H733.00" stroke="#000" stroke-width="0.9" fill="none"/><path d="M725.98 292.70L725.06 297.70M727.83 292.70L726.90 297.70M730.68 292.70L729.76 297.70M732.53 292.70L731.60 297.70" stroke="#000" stroke-width="0.7" fill="none"/>
<path d="M619.20 232.50V357.30M614.00 357.30H744.30" stroke="#000" stroke-width="1.45" fill="none"/>
<path d="M614.00 232.50H619.20" stroke="#000" stroke-width="1.45"/>
<text x="612.00" y="235.70" font-size="9" text-anchor="end">8</text>
<path d="M614.00 263.70H619.20" stroke="#000" stroke-width="1.45"/>
<text x="612.00" y="266.90" font-size="9" text-anchor="end">6</text>
<path d="M614.00 294.90H619.20" stroke="#000" stroke-width="1.45"/>
<text x="612.00" y="298.10" font-size="9" text-anchor="end">4</text>
<path d="M614.00 326.10H619.20" stroke="#000" stroke-width="1.45"/>
<text x="612.00" y="329.30" font-size="9" text-anchor="end">2</text>
<text x="612.00" y="360.50" font-size="9" text-anchor="end">0</text>
<path d="M634.85 357.30V362.50" stroke="#000" stroke-width="1.45"/>
<text transform="translate(637.85,371.20) rotate(-45)" font-size="9.2" text-anchor="end">Ctrol</text>
<path d="M658.30 357.30V362.50" stroke="#000" stroke-width="1.45"/>
<text transform="translate(661.30,371.20) rotate(-45)" font-size="9.2" text-anchor="end">Model</text>
<path d="M681.55 357.30V362.50" stroke="#000" stroke-width="1.45"/>
<text transform="translate(684.55,371.20) rotate(-45)" font-size="9.2" text-anchor="end">TSC-L</text>
<path d="M705.20 357.30V362.50" stroke="#000" stroke-width="1.45"/>
<text transform="translate(708.20,371.20) rotate(-45)" font-size="9.2" text-anchor="end">TSC-M</text>
<path d="M728.50 357.30V362.50" stroke="#000" stroke-width="1.45"/>
<text transform="translate(731.50,371.20) rotate(-45)" font-size="9.2" text-anchor="end">TSC-H</text>
<text transform="translate(611.20,220.20) scale(1.497,1.599)" font-size="10">H</text>
<text transform="translate(601.50,346.07) rotate(-90) scale(1.008,1.090)" font-size="10">NF-κB mRNA/GAPDH</text>
</svg></div>
</body></html>
